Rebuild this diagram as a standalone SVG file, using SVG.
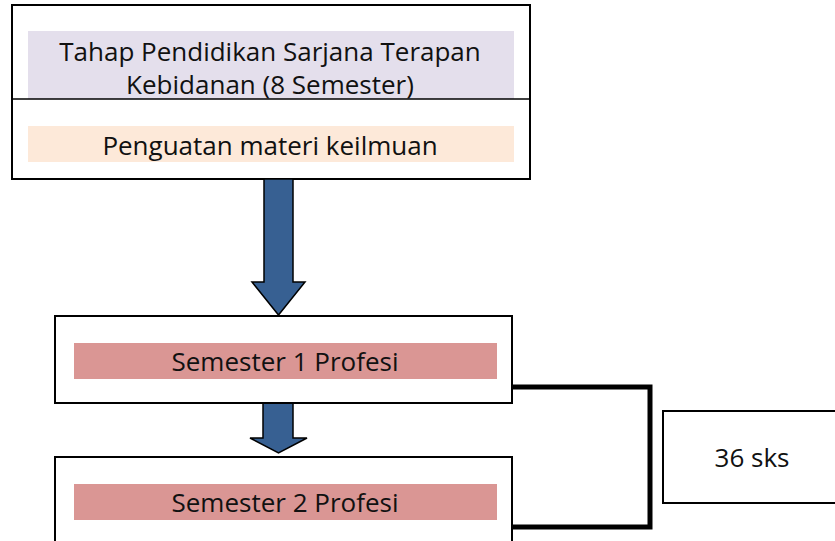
<svg xmlns="http://www.w3.org/2000/svg" width="835" height="541" viewBox="0 0 835 541">
<style>
.box{fill:#fff;stroke:#000;stroke-width:2}
.t{font-family:"Open Sans","Noto Sans",sans-serif;font-size:26px;fill:#111;text-anchor:middle}
.arrow{fill:#376092;stroke:#000;stroke-width:1.5}
.conn{fill:none;stroke:#000;stroke-width:5}
</style>
<g id="top">
<rect class="box" x="12" y="5" width="518" height="174"/>
<rect x="28" y="31" width="486" height="68" fill="#e4dfec"/>
<line x1="12" y1="99" x2="530" y2="99" stroke="#000" stroke-width="1.5"/>
<rect x="28" y="126" width="486" height="36" fill="#fde9d9"/>
<text class="t" x="270" y="61">Tahap Pendidikan Sarjana Terapan</text>
<text class="t" x="270" y="94">Kebidanan (8 Semester)</text>
<text class="t" x="270" y="155">Penguatan materi keilmuan</text>
</g>
<g id="connectors">
<polygon class="arrow" points="264,179 293,179 293,282 305,282 278.5,315 252,282 264,282"/>
<polygon class="arrow" points="263,398 293,398 293,438 307,438 278.5,453 250,438 263,438"/>
<polyline class="conn" points="512,387 650,387 650,527 512,527"/>
</g>
<g id="sem1">
<rect class="box" x="55" y="316" width="457" height="87"/>
<rect x="74" y="343" width="423" height="36" fill="#da9694"/>
<text class="t" x="285" y="371">Semester 1 Profesi</text>
</g>
<g id="sem2">
<rect class="box" x="55" y="457" width="457" height="90"/>
<rect x="74" y="484" width="423" height="36" fill="#da9694"/>
<text class="t" x="285" y="512">Semester 2 Profesi</text>
</g>
<g id="sks">
<rect class="box" x="663" y="411" width="174" height="92"/>
<text class="t" x="752" y="467">36 sks</text>
</g>
</svg>
